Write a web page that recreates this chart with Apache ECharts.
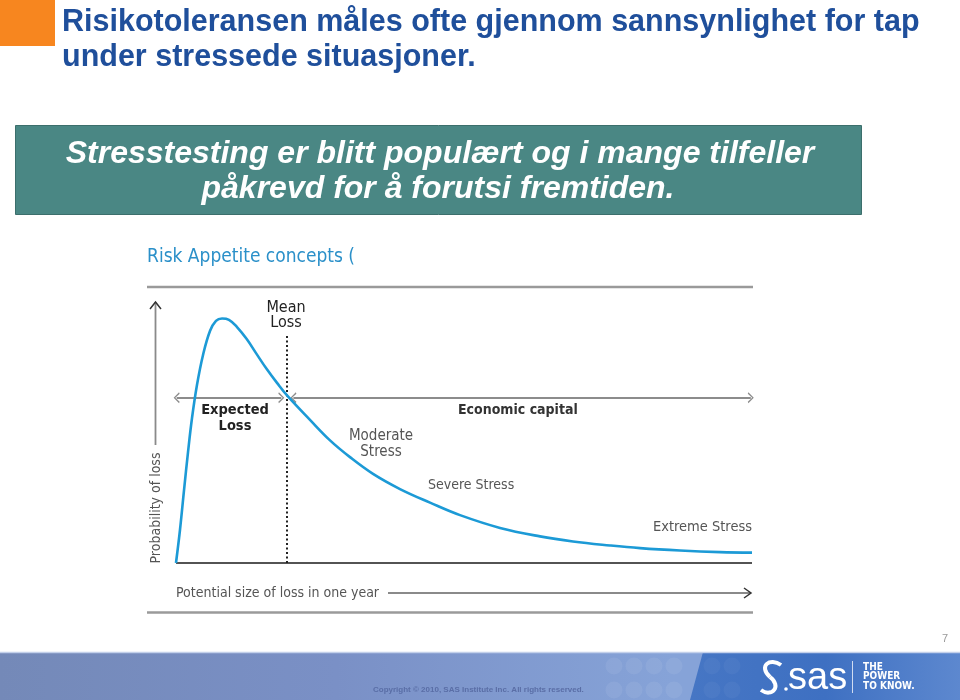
<!DOCTYPE html>
<html><head><meta charset="utf-8">
<script src="https://cdn.jsdelivr.net/npm/echarts@6/dist/echarts.min.js"></script>
<style>html,body{margin:0;padding:0;background:#fff}#c{width:960px;height:700px}</style>
</head><body><div id="c"></div>
<script>
// Loss distribution curve (x: potential size of loss, y: probability of loss)
const lossSize = [4.79, 5.45, 6.12, 6.78, 7.44, 8.26, 9.26, 10.41, 11.4, 12.4, 13.55, 14.88, 16.48, 18.02, 19.79, 21.49, 23.22, 26.94, 30.25, 33.55, 37.36, 41.82, 46.78, 51.74, 58.35, 64.96, 70.41, 76.53, 81.49, 88.1, 94.71, 100];
const lossProb = [0, 12.4, 27.4, 41.7, 54.5, 66.9, 78.2, 87.2, 91.0, 91.9, 91.4, 88.7, 84.2, 78.9, 72.9, 67.7, 62.8, 53.8, 46.1, 39.8, 33.5, 27.8, 22.7, 18.0, 13.2, 10.0, 8.1, 6.6, 5.6, 4.7, 4.1, 3.9];
const meanLoss = 23.1;
const capitalLevel = 62.1;

const slideTitle = ['Risikotoleransen måles ofte gjennom sannsynlighet for tap', 'under stressede situasjoner.'];
const boxText = ['Stresstesting er blitt populært og i mange tilfeller', 'påkrevd for å forutsi fremtiden.'];

const curveData = lossSize.map((x, i) => [x, lossProb[i]]);
const chev = 'path://M0,9 L5,0 L10,9 L8.6,10 L5,2.8 L1.4,10 Z';
const narrow = '"Liberation Sans Narrow","DejaVu Sans Condensed","DejaVu Sans",sans-serif';
const arial = '"Liberation Sans",Arial,sans-serif';

const chart = echarts.init(document.getElementById('c'), null, {renderer: 'canvas'});

function txt(x, y, text, size, family, color, extra, rot) {
  const el = {type: 'text', x: x, y: y, z: 50,
    style: Object.assign({text: text, fontSize: size, fontFamily: family, fill: color, textAlign: 'left', textVerticalAlign: 'middle'}, extra || {})};
  if (rot) el.rotation = rot;
  return el;
}

const graphics = [
  // slide header
  {type: 'rect', shape: {x: 0, y: 0, width: 55, height: 46}, style: {fill: '#f7861f'}},
  txt(62, 23, slideTitle[0], 30.5, arial, '#1f4f9b', {fontWeight: 'bold'}),
  txt(62, 58, slideTitle[1], 30.5, arial, '#1f4f9b', {fontWeight: 'bold'}),
  // teal box
  {type: 'rect', shape: {x: 15.5, y: 125.5, width: 846, height: 89}, style: {fill: '#4a8784', stroke: '#3c6f6c', lineWidth: 1}},
  txt(440, 154, boxText[0], 32, arial, '#ffffff', {textAlign: 'center', fontWeight: 'bold', fontStyle: 'italic'}),
  txt(438, 189, boxText[1], 32, arial, '#ffffff', {textAlign: 'center', fontWeight: 'bold', fontStyle: 'italic'}),
  // figure title and frame lines
  txt(147, 257, 'Risk Appetite concepts (', 19, narrow, '#2b90c9'),
  {type: 'line', shape: {x1: 147, y1: 287, x2: 753, y2: 287}, style: {stroke: '#9a9a9a', lineWidth: 2.5}},
  {type: 'line', shape: {x1: 147, y1: 612.5, x2: 753, y2: 612.5}, style: {stroke: '#9a9a9a', lineWidth: 2.5}},
  // y axis name + arrow
  txt(156, 508, 'Probability of loss', 14, narrow, '#555', {textAlign: 'center'}, Math.PI / 2),
  {type: 'line', shape: {x1: 155.5, y1: 445, x2: 155.5, y2: 302}, style: {stroke: '#8a8a8a', lineWidth: 1.8}},
  {type: 'polyline', shape: {points: [[150, 309], [155.5, 302], [161, 309]]}, style: {stroke: '#333', lineWidth: 1.5, fill: null}},
  // x axis name + arrow
  txt(176, 593, 'Potential size of loss in one year', 14, narrow, '#555'),
  {type: 'line', shape: {x1: 388, y1: 593, x2: 751, y2: 593}, style: {stroke: '#8a8a8a', lineWidth: 1.8}},
  {type: 'polyline', shape: {points: [[744, 588], [751, 593], [744, 598]]}, style: {stroke: '#333', lineWidth: 1.5, fill: null}},
  // annotations
  txt(286, 308, 'Mean', 16, narrow, '#222', {textAlign: 'center'}),
  txt(286, 323, 'Loss', 16, narrow, '#222', {textAlign: 'center'}),
  txt(235, 410, 'Expected', 14.5, narrow, '#222', {textAlign: 'center', fontWeight: 'bold'}),
  txt(235, 426, 'Loss', 14.5, narrow, '#222', {textAlign: 'center', fontWeight: 'bold'}),
  txt(458, 410, 'Economic capital', 14, narrow, '#333', {fontWeight: 'bold'}),
  txt(381, 436, 'Moderate', 15, narrow, '#555', {textAlign: 'center'}),
  txt(381, 452, 'Stress', 15, narrow, '#555', {textAlign: 'center'}),
  txt(428, 485, 'Severe Stress', 14, narrow, '#555'),
  txt(752, 527, 'Extreme Stress', 14.5, narrow, '#555', {textAlign: 'right'}),
  // page number
  txt(948, 639, '7', 11, arial, '#999', {textAlign: 'right'}),
  // footer band
  {type: 'rect', shape: {x: 0, y: 652, width: 960, height: 48}, style: {fill: {type: 'linear', x: 0, y: 0, x2: 1, y2: 0, colorStops: [
    {offset: 0, color: '#7489b8'}, {offset: 0.35, color: '#7a90c6'}, {offset: 0.7, color: '#86a3d8'}, {offset: 1, color: '#86a3d8'}]}}},
  {type: 'polygon', shape: {points: [[703, 652], [960, 652], [960, 700], [690, 700]]}, style: {fill: {type: 'linear', x: 0, y: 0, x2: 1, y2: 0, colorStops: [
    {offset: 0, color: '#4676c4'}, {offset: 0.5, color: '#3e70c2'}, {offset: 1, color: '#5d88cf'}]}}},
  {type: 'line', shape: {x1: 0, y1: 652.5, x2: 960, y2: 652.5}, style: {stroke: '#c3d0ea', lineWidth: 1.5}},
  ...[614, 634, 654, 674].flatMap(cx => [
    {type: 'circle', shape: {cx: cx, cy: 666, r: 8.5}, style: {fill: 'rgba(255,255,255,0.07)'}},
    {type: 'circle', shape: {cx: cx, cy: 690, r: 8.5}, style: {fill: 'rgba(255,255,255,0.07)'}}
  ]),
  ...[712, 732].flatMap(cx => [
    {type: 'circle', shape: {cx: cx, cy: 666, r: 8.5}, style: {fill: 'rgba(255,255,255,0.04)'}},
    {type: 'circle', shape: {cx: cx, cy: 690, r: 8.5}, style: {fill: 'rgba(255,255,255,0.04)'}}
  ]),
  txt(373, 690, 'Copyright © 2010, SAS Institute Inc. All rights reserved.', 8, arial, '#5a6ea6', {fontWeight: 'bold'}),
  // SAS logo
  {type: 'bezierCurve', z: 50, shape: {x1: 781, y1: 665, cpx1: 770, cpy1: 657, cpx2: 758, cpy2: 666, x2: 770, y2: 677}, style: {stroke: '#fff', lineWidth: 4, fill: null}},
  {type: 'bezierCurve', z: 50, shape: {x1: 770, y1: 677, cpx1: 782, cpy1: 686, cpx2: 772, cpy2: 698, x2: 761, y2: 690}, style: {stroke: '#fff', lineWidth: 4, fill: null}},
  {type: 'circle', z: 50, shape: {cx: 786, cy: 689, r: 1.8}, style: {fill: '#fff'}},
  txt(788, 679, 'sas', 38, arial, '#ffffff'),
  {type: 'line', z: 50, shape: {x1: 852.5, y1: 661, x2: 852.5, y2: 693}, style: {stroke: 'rgba(255,255,255,0.75)', lineWidth: 1}},
  txt(863, 667, 'THE', 10, narrow, '#fff', {fontWeight: 'bold'}),
  txt(863, 676.5, 'POWER', 10, narrow, '#fff', {fontWeight: 'bold'}),
  txt(863, 686, 'TO KNOW.', 10, narrow, '#fff', {fontWeight: 'bold'})
];

chart.setOption({
  animation: false,
  backgroundColor: '#ffffff',
  grid: {left: 147, top: 297, width: 605, height: 266},
  xAxis: {type: 'value', min: 0, max: 100, show: false},
  yAxis: {type: 'value', min: 0, max: 100, show: false},
  graphic: graphics,
  series: [
    {
      type: 'line', name: 'Loss distribution', data: curveData, smooth: 0.4,
      showSymbol: false, clip: false, z: 5,
      lineStyle: {color: '#1c9ad6', width: 2.6},
      markLine: {
        silent: true, animation: false, precision: 3,
        label: {show: false},
        data: [
          [{coord: [4.8, 0], symbol: 'none', lineStyle: {color: '#1a1a1a', width: 1.6, type: 'solid'}}, {coord: [100, 0], symbol: 'none'}],
          [{coord: [meanLoss, 0], symbol: 'none', lineStyle: {color: '#222', width: 2, type: [2, 2.5]}}, {coord: [meanLoss, 86], symbol: 'none'}],
          [{coord: [4.9, capitalLevel], symbol: chev, symbolSize: [11, 6], lineStyle: {color: '#8c8c8c', width: 1.8, type: 'solid'}}, {coord: [22.2, capitalLevel], symbol: chev, symbolSize: [11, 6]}],
          [{coord: [24.2, capitalLevel], symbol: chev, symbolSize: [11, 6], lineStyle: {color: '#8c8c8c', width: 1.8, type: 'solid'}}, {coord: [99.8, capitalLevel], symbol: chev, symbolSize: [11, 6]}]
        ]
      }
    }
  ]
});
</script>
</body></html>
